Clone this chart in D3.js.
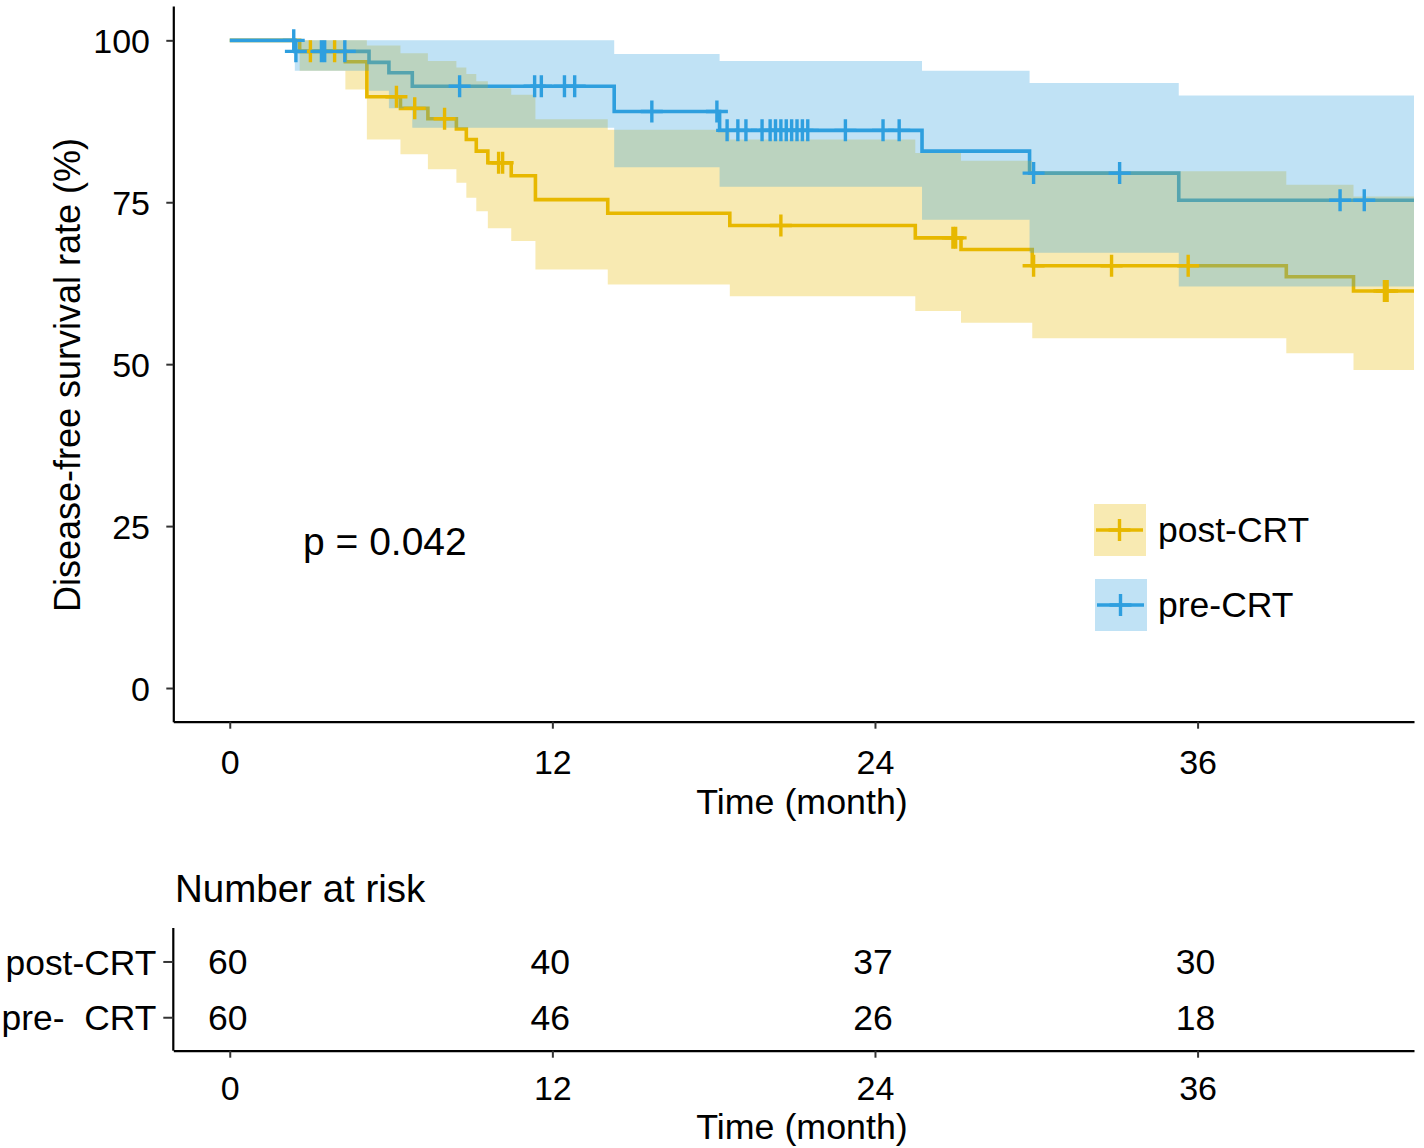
<!DOCTYPE html>
<html><head><meta charset="utf-8">
<script src="https://cdn.jsdelivr.net/npm/d3@7"></script>
<style>
body{margin:0;background:#fff;}
text{font-family:"Liberation Sans",Arial,Helvetica,sans-serif;fill:#000;}
</style>
</head><body>
<svg id="chart" width="1424" height="1148"></svg>
<script>
// ---------------- data ----------------
const timeTicks = [0, 12, 24, 36];
const survTicks = [0, 25, 50, 75, 100];
const groupNames = ["post-CRT", "pre-CRT"];
const groupColors = ["#E7B800", "#2E9FDF"];
const followUpEnd = 44.05;

// post-CRT (yellow)
const postTimes = [0, 2.6, 4.3, 5.1, 6.35, 7.37, 8.43, 8.8, 9.17, 9.6, 10.47, 11.37, 14.06, 18.6, 25.5, 27.2, 29.85, 39.3, 41.8];
const postSurv  = [100, 98.3, 96.7, 91.3, 89.5, 87.9, 86.3, 84.7, 82.9, 81.1, 79.1, 75.4, 73.3, 71.4, 69.5, 67.7, 65.2, 63.5, 61.3];
const postUpper = [100, 100, 100, 99.2, 98.0, 96.8, 95.8, 94.8, 93.7, 92.6, 91.6, 87.8, 86.2, 84.7, 82.6, 81.4, 79.8, 77.7, 75.9];
const postLower = [100, 95.3, 92.4, 84.7, 82.4, 80.1, 78.0, 75.7, 73.6, 71.0, 69.0, 64.6, 62.3, 60.5, 58.2, 56.4, 54.0, 51.7, 49.1];
const postCensor = [3.0, 3.9, 6.2, 6.88, 7.99, 10.0, 10.15, 20.5, 26.9, 27.0, 29.9, 32.8, 35.65, 42.95, 43.05];

// pre-CRT (blue)
const preTimes = [0, 2.42, 5.18, 5.92, 6.79, 14.3, 18.22, 25.75, 29.75, 35.3];
const preSurv  = [100, 98.3, 96.6, 95.0, 92.9, 89.0, 86.1, 82.9, 79.5, 75.3];
const preUpper = [100, 100, 100, 100, 100, 97.9, 96.8, 95.3, 93.4, 91.5];
const preLower = [100, 95.3, 92.2, 89.5, 86.5, 80.4, 77.4, 72.3, 67.2, 62.0];
const preCensor = [2.38, 2.46, 3.41, 3.53, 4.28, 8.55, 11.34, 11.59, 12.45, 12.83, 15.7, 18.12,
  18.5, 18.9, 19.2, 19.8, 20.1, 20.3, 20.5, 20.7, 20.9, 21.1, 21.3, 21.5, 22.9, 24.3, 24.9,
  29.9, 33.1, 41.3, 42.2];

const pValueText = "p = 0.042";
const riskRowLabels = ["post-CRT", "pre-  CRT"];
const riskPost = [60, 40, 37, 30];
const riskPre  = [60, 46, 26, 18];

// ---------------- layout ----------------
const svg = d3.select("#chart");
const P = {left: 173.3, right: 1414, top: 6, bottom: 721.7};
const x = d3.scaleLinear().domain([-2.1, followUpEnd]).range([P.left, P.right]);
const y = d3.scaleLinear().domain([-5.2, 105.3]).range([P.bottom, P.top]);

svg.append("defs").append("clipPath").attr("id", "clip")
  .append("rect").attr("x", P.left).attr("y", 0).attr("width", P.right - P.left).attr("height", P.bottom);

function makeSeries(times, surv, upper, lower) {
  const pts = times.map((t, i) => ({t, s: surv[i], hi: upper[i], lo: lower[i]}));
  const last = pts[pts.length - 1];
  pts.push({t: followUpEnd, s: last.s, hi: last.hi, lo: last.lo});
  return pts;
}
function survAt(times, surv, t) {
  let v = surv[0];
  for (let i = 0; i < times.length; i++) if (times[i] <= t) v = surv[i];
  return v;
}
const series = [
  {pts: makeSeries(postTimes, postSurv, postUpper, postLower), times: postTimes, surv: postSurv, censor: postCensor, color: groupColors[0]},
  {pts: makeSeries(preTimes, preSurv, preUpper, preLower), times: preTimes, surv: preSurv, censor: preCensor, color: groupColors[1]}
];

const lineGen = d3.line().x(d => x(d.t)).y(d => y(d.s)).curve(d3.curveStepAfter);
const areaGen = d3.area().x(d => x(d.t)).y0(d => y(d.lo)).y1(d => y(d.hi)).curve(d3.curveStepAfter);

const plot = svg.append("g").attr("clip-path", "url(#clip)");
// lines first
series.forEach(s => {
  plot.append("path").attr("d", lineGen(s.pts)).attr("fill", "none")
    .attr("stroke", s.color).attr("stroke-width", 3.6);
});
// ribbons over the lines
series.forEach(s => {
  plot.append("path").attr("d", areaGen(s.pts)).attr("fill", s.color).attr("fill-opacity", 0.3);
});
// censor marks
const crossPath = "M-11,0H11M0,-11V11";
series.forEach(s => {
  svg.append("g").selectAll("path").data(s.censor).join("path")
    .attr("d", crossPath)
    .attr("transform", c => `translate(${x(c)},${y(survAt(s.times, s.surv, c))})`)
    .attr("fill", "none").attr("stroke", s.color).attr("stroke-width", 3.4);
});

// axes
function styleAxis(g) {
  g.select(".domain").attr("stroke", "#000").attr("stroke-width", 2.2);
  g.selectAll(".tick line").attr("stroke", "#333").attr("stroke-width", 2);
  g.selectAll(".tick text").attr("fill", "#000");
}
const xAxis = svg.append("g").attr("transform", `translate(0,${P.bottom})`)
  .call(d3.axisBottom(x).tickValues(timeTicks).tickSize(7).tickSizeOuter(0));
styleAxis(xAxis);
xAxis.selectAll(".tick text").attr("y", 40.3).attr("dy", "0.36em")
  .style("font-size", "34px").style("font-family", "Liberation Sans, Arial, sans-serif");

const yAxis = svg.append("g").attr("transform", `translate(${P.left},0)`)
  .call(d3.axisLeft(y).tickValues(survTicks).tickSize(7).tickSizeOuter(0));
styleAxis(yAxis);
yAxis.selectAll(".tick text").attr("x", -23.3).attr("dy", "0.36em")
  .style("font-size", "34px").style("font-family", "Liberation Sans, Arial, sans-serif");

svg.append("text").attr("x", 802).attr("y", 814).attr("text-anchor", "middle")
  .style("font-size", "35.8px").text("Time (month)");
svg.append("text").attr("transform", "translate(80,375) rotate(-90)").attr("text-anchor", "middle")
  .style("font-size", "36px").text("Disease-free survival rate (%)");

svg.append("text").attr("x", 303).attr("y", 541).attr("dy", "0.36em")
  .style("font-size", "39px").text(pValueText);

// legend
const legendY = [530, 605];
const legendX = [1094, 1095];
groupNames.forEach((name, i) => {
  const g = svg.append("g");
  g.append("rect").attr("x", legendX[i]).attr("y", legendY[i] - 26).attr("width", 52).attr("height", 52)
    .attr("fill", groupColors[i]).attr("fill-opacity", 0.3);
  g.append("line").attr("x1", legendX[i] + 2).attr("x2", legendX[i] + 49)
    .attr("y1", legendY[i]).attr("y2", legendY[i]).attr("stroke", groupColors[i]).attr("stroke-width", 3.6);
  g.append("path").attr("d", crossPath).attr("transform", `translate(${legendX[i] + 25.5},${legendY[i]})`)
    .attr("fill", "none").attr("stroke", groupColors[i]).attr("stroke-width", 3.4);
  g.append("text").attr("x", 1158).attr("y", legendY[i] - 1).attr("dy", "0.36em")
    .style("font-size", "35.5px").text(name);
});

// ---------------- risk table ----------------
const T = {top: 928, bottom: 1050.7};
svg.append("text").attr("x", 175).attr("y", 888).attr("dy", "0.36em")
  .style("font-size", "38.5px").text("Number at risk");

const yr = d3.scalePoint().domain(riskRowLabels).range([T.top, T.bottom]).padding(0.6);
const riskValues = [riskPost, riskPre];
riskRowLabels.forEach((lab, r) => {
  svg.append("g").selectAll("text").data(timeTicks).join("text")
    .attr("x", d => x(d) - 2).attr("y", yr(lab)).attr("dy", "0.36em").attr("text-anchor", "middle")
    .style("font-size", "35.5px").text((d, i) => riskValues[r][i]);
});

const tyAxis = svg.append("g").attr("transform", `translate(${P.left},0)`)
  .call(d3.axisLeft(yr).tickSize(10).tickPadding(7).tickSizeOuter(0));
tyAxis.select(".domain").attr("d", `M0,${T.top}V${T.bottom}`);
styleAxis(tyAxis);
tyAxis.selectAll(".tick text").attr("dy", "0.36em").style("white-space", "pre")
  .style("font-size", "35.4px").style("font-family", "Liberation Sans, Arial, sans-serif");

const txAxis = svg.append("g").attr("transform", `translate(0,${T.bottom})`)
  .call(d3.axisBottom(x).tickValues(timeTicks).tickSize(7).tickSizeOuter(0));
styleAxis(txAxis);
txAxis.selectAll(".tick text").attr("y", 36.8).attr("dy", "0.36em")
  .style("font-size", "34px").style("font-family", "Liberation Sans, Arial, sans-serif");

svg.append("text").attr("x", 802).attr("y", 1139).attr("text-anchor", "middle")
  .style("font-size", "35.8px").text("Time (month)");
</script>
</body></html>
